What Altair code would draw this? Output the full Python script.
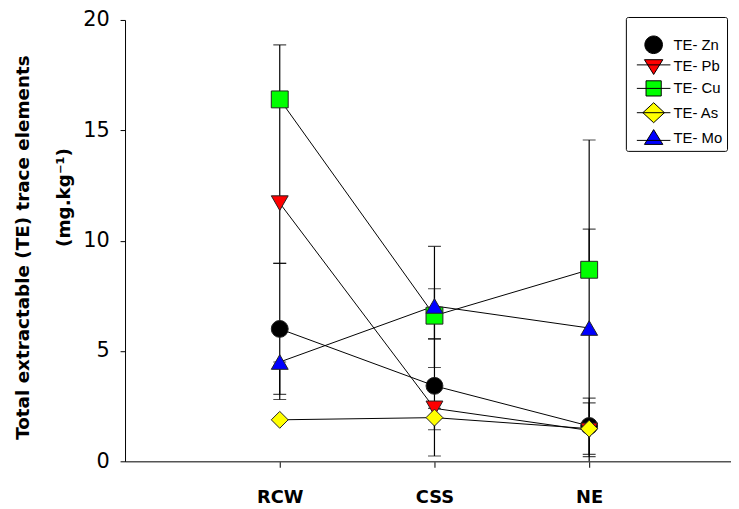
import altair as alt
import pandas as pd

sites = ["RCW", "CSS", "NE"]
series = ["TE- Zn", "TE- Pb", "TE- Cu", "TE- As", "TE- Mo"]
colors = ["#000000", "#ff0000", "#00ff00", "#ffff00", "#0000ff"]
outline = ["#000000", "#000000", "#000000", "#000000", "#000000"]
shapes = ["circle", "triangle-down", "square", "diamond", "triangle-up"]
legend_shapes = [
    "M0,-1.1A1.1,1.1,0,1,1,0,1.1A1.1,1.1,0,1,1,0,-1.1Z",
    "M-2.1,-0.15H2.1M-1.15,-0.8L1.15,-0.8L0,1.05Z",
    "M-2.1,0H2.1M-0.95,-0.95H0.95V0.95H-0.95Z",
    "M-2.1,0H2.1M0,-1.25L1.35,0L0,1.25L-1.35,0Z",
    "M-2.1,0.3H2.1M0,-1.05L1.15,0.8L-1.15,0.8Z",
]

# means
zn = [6.0, 3.42, 1.6]
pb = [11.7, 2.4, 1.4]
cu = [16.4, 6.6, 8.68]
as_ = [1.88, 1.98, 1.48]
mo = [4.5, 7.04, 6.04]
# error bar ends (lower, upper) as drawn
zn_lo = [3.03, 1.43, 0.31]
zn_hi = [8.97, 5.55, 2.86]
pb_lo = [8.97, 0.24, 0.21]
pb_hi = [16.4, 2.4, 2.65]
cu_lo = [16.4, 5.55, 8.68]
cu_hi = [18.87, 7.82, 10.52]
as_lo = [1.88, 1.98, 1.48]
as_hi = [1.88, 1.98, 1.48]
mo_lo = [2.8, 4.25, -2.48]
mo_hi = [4.5, 9.74, 14.56]

vals = [zn, pb, cu, as_, mo]
los = [zn_lo, pb_lo, cu_lo, as_lo, mo_lo]
his = [zn_hi, pb_hi, cu_hi, as_hi, mo_hi]

rows = []
for s, v, lo, hi in zip(series, vals, los, his):
    for i, site in enumerate(sites):
        rows.append({"series": s, "site": site, "pos": i + 1, "value": v[i],
                     "lo": lo[i], "hi": hi[i]})
df = pd.DataFrame(rows)

FONT = "DejaVu Sans"

x = alt.X("pos:Q", scale=alt.Scale(domain=[0, 611 / 156], nice=False, zero=False),
          axis=alt.Axis(values=[1, 2, 3], labelExpr="['', 'RCW', 'CSS', 'NE'][datum.value]",
                        grid=False, tickSize=6, labelFontSize=18, labelFontWeight="bold",
                        labelPadding=22, labelFont=FONT, labelColor="black",
                        domainColor="#555555", domainWidth=1.5, tickColor="black",
                        title=None))
yscale = alt.Scale(domain=[0, 20], nice=False)
sp = "\u2800" * 7
yaxis = alt.Axis(values=[0, 5, 10, 15, 20], grid=False, tickSize=5, labelFontSize=21,
                 labelPadding=11, labelFont=FONT, labelColor="black",
                 domainColor="black", tickColor="black",
                 title=["Total extractable (TE) trace elements", sp + "(mg.kg\u207b\u00b9)"],
                 titleFont=FONT, titleFontSize=18.5, titleFontWeight="bold",
                 titleLineHeight=41, titleColor="black", titleAngle=270,
                 titleBaseline="alphabetic", titleAlign="center",
                 titleX=-97, titleY=229)

base = alt.Chart(df)

lines = base.mark_line(color="black", strokeWidth=1).encode(
    x=x, y=alt.Y("value:Q", scale=yscale, axis=yaxis), detail="series:N")

bars = base.mark_rule(color="black", strokeWidth=1.2, clip=True).encode(
    x=x, y=alt.Y("lo:Q", scale=yscale), y2="hi:Q")

cap_lo = base.mark_tick(color="black", orient="horizontal", size=13, thickness=1.2, clip=True).encode(
    x=x, y=alt.Y("lo:Q", scale=yscale))
cap_hi = base.mark_tick(color="black", orient="horizontal", size=13, thickness=1.2, clip=True).encode(
    x=x, y=alt.Y("hi:Q", scale=yscale))

points = base.mark_point(filled=True, size=290, stroke="#222222", strokeWidth=1, opacity=1).encode(
    x=x, y=alt.Y("value:Q", scale=yscale),
    fill=alt.Fill("series:N", scale=alt.Scale(domain=series, range=colors), legend=None),
    shape=alt.Shape("series:N", scale=alt.Scale(domain=series, range=shapes), legend=None),
)


def lg():
    return alt.Legend(title="\u2800", titleFontSize=10, titlePadding=5,
                      orient="none", legendX=505, legendY=-3,
                      symbolOpacity=1, symbolStrokeWidth=1, symbolOffset=15)


leg = base.mark_point(filled=True, size=260, strokeWidth=1, opacity=1, clip=True).encode(
    x=alt.value(-500), y=alt.value(-500),
    fill=alt.Fill("series:N", scale=alt.Scale(domain=series, range=colors), legend=lg()),
    shape=alt.Shape("series:N", scale=alt.Scale(domain=series, range=legend_shapes), legend=lg()),
    stroke=alt.Stroke("series:N", scale=alt.Scale(domain=series, range=outline), legend=lg()),
)

chart = alt.layer(lines, bars, cap_lo, cap_hi, points, leg).resolve_scale(
    fill="independent", shape="independent", stroke="independent"
).properties(
    width=611, height=445,
    autosize=alt.AutoSizeParams(type="none"),
    padding={"left": 118, "top": 10, "right": 0, "bottom": 44},
).configure_view(stroke=None).configure_legend(
    fillColor="white", strokeColor="black", padding=4, cornerRadius=2,
    labelFont="Liberation Sans", labelFontSize=15, labelColor="black",
    symbolSize=260, rowPadding=1.5, labelOffset=11,
)

chart.save("out.html", embed_options={"renderer": "svg", "actions": False})
